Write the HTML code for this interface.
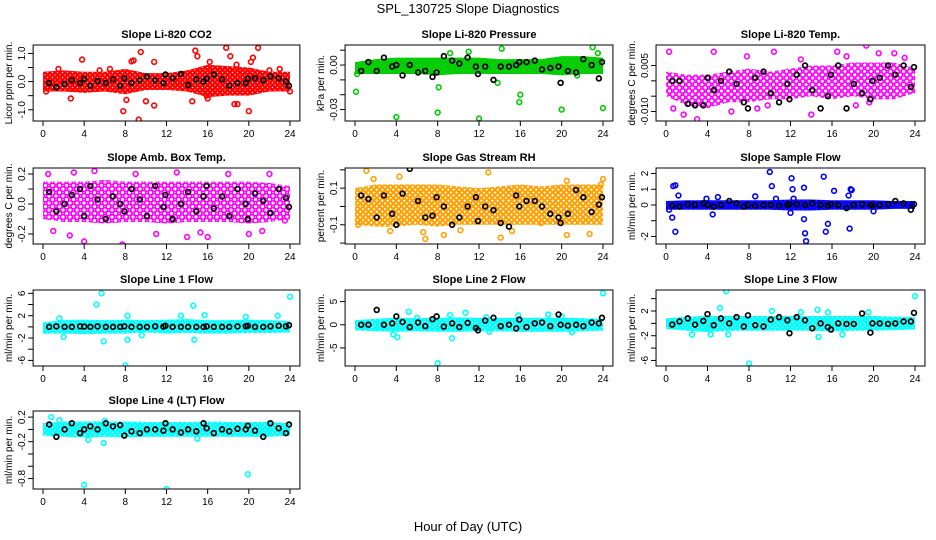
<!DOCTYPE html>
<html><head><meta charset="utf-8"><title>SPL_130725 Slope Diagnostics</title>
<style>
html,body{margin:0;padding:0;background:#fff;}
svg{display:block;font-family:"Liberation Sans",Arial,sans-serif;}
</style></head>
<body>
<svg id="chart" width="936" height="540" viewBox="0 0 936 540" xmlns="http://www.w3.org/2000/svg">
<text x="468" y="13" text-anchor="middle" font-size="13">SPL_130725  Slope Diagnostics</text>
<text x="468" y="531" text-anchor="middle" font-size="13">Hour of Day (UTC)</text>
</svg>
<script>
// shared data
const xTicks = [0,4,8,12,16,20,24];
const bandHours = [0,2,4,6,8,10,12,14,16,18,20,22,24];
const blackHours = [0.6,1.3,2.1,2.8,3.6,4.0,4.6,5.3,6.1,6.8,7.5,7.9,8.6,9.4,10.1,10.9,11.7,11.9,12.6,13.4,14.1,14.9,15.6,15.9,16.6,17.4,18.1,18.9,19.7,19.9,20.6,21.4,22.1,22.9,23.6,23.9];

// panel 1: CO2
const co2Lo = [-0.35,-0.35,-0.4,-0.35,-0.45,-0.3,-0.3,-0.35,-0.55,-0.5,-0.5,-0.35,-0.35];
const co2Hi = [0.35,0.4,0.35,0.35,0.45,0.3,0.3,0.4,0.6,0.55,0.5,0.35,0.35];
const co2OutX = [3.8,2.7,7.8,9.3,9.5,10.8,10.8,8.6,8.8,14.5,14.8,15,16,17.8,18.2,18.8,18.6,18.9,20,20.4,20.9,20.2,10,8.1,16.2,15.9,24,0.3,22,23,5.5,6.5,1.5];
const co2OutY = [0.78,-0.6,-1.05,-1.35,1.05,0.7,-0.85,0.72,0.75,-0.7,1.1,0.9,-0.6,1.2,0.9,0.6,-0.8,-0.8,-1.05,0.85,1.2,0.7,-0.7,-0.65,0.7,-0.5,-0.35,-0.35,0.4,0.45,0.4,0.45,0.45];
const co2Black = [-0.05,-0.2,-0.08,0.05,-0.05,0.1,-0.15,0.02,-0.05,0.08,-0.15,0.12,-0.05,0.05,0.18,0.05,-0.05,0.25,0.12,0.27,-0.12,0.08,0.0,0.1,0.25,0.08,-0.15,-0.05,-0.05,0.1,0.12,0.05,0.18,0.12,0.0,-0.15];
const co2Ticks = [-1,-0.5,0,0.5,1];
const co2Labels = ['-1.0','','0.0','','1.0'];

// panel 2: pressure
const presLo = [-0.006,-0.006,-0.006,-0.006,-0.007,-0.006,-0.006,-0.006,-0.006,-0.006,-0.007,-0.006,-0.006];
const presHi = [0.002,0.004,0.005,0.005,0.005,0.005,0.005,0.004,0.004,0.004,0.006,0.006,0.005];
const presOutX = [0.1,4,8,8.1,12,13.8,14.2,15.9,16,20,24,23,11,9.2,0.2,21.5,23.5];
const presOutY = [-0.018,-0.035,-0.032,-0.015,-0.036,-0.012,0.011,-0.025,-0.02,-0.03,-0.029,0.012,0.009,0.008,-0.006,-0.007,0.008];
const presBlack = [-0.004,0.002,-0.004,0.005,-0.001,0.0,-0.007,0.0,-0.005,-0.004,-0.008,-0.005,0.006,0.003,0.001,0.005,-0.001,-0.006,-0.001,-0.01,-0.001,-0.001,0.0,0.002,0.002,0.003,-0.003,-0.002,-0.001,-0.012,-0.004,-0.005,0.004,0.0,-0.009,0.002];
const presTicks = [0.01,0,-0.01,-0.02,-0.03];
const presLabels = ['','0.00','','','-0.03'];

// panel 3: Li-820 temp
const tempLo = [-0.005,-0.008,-0.009,-0.007,-0.007,-0.006,-0.006,-0.005,-0.006,-0.005,-0.006,-0.006,-0.004];
const tempHi = [0.003,0.002,0.002,0.003,0.004,0.003,0.004,0.005,0.005,0.006,0.006,0.006,0.004];
const tempOutX = [0.3,3,1.7,0.7,6.3,7.8,10.4,8.8,9.8,14,16.5,19.3,20.5,22,18.3,19.6,23,17.4,13,4.6];
const tempOutY = [0.0095,-0.0125,-0.011,-0.009,-0.010,0.008,0.0095,-0.009,-0.008,-0.011,0.0095,0.0115,0.009,0.009,-0.008,-0.007,0.0075,0.008,0.007,0.0095];
const tempBlack = [0.0,0.0,-0.0075,-0.008,-0.008,0.001,-0.003,0.0,0.003,-0.001,-0.007,-0.009,0.001,0.003,-0.004,-0.007,-0.001,-0.006,0.002,0.005,-0.003,-0.009,-0.005,0.002,0.005,-0.009,-0.001,-0.004,-0.006,0.0,0.001,0.005,0.002,0.005,-0.002,0.0045];
const tempTicks = [0.005,0,-0.005,-0.01];
const tempLabels = ['0.005','','','-0.010'];

// panel 4: amb box temp
const ambLo = [-0.1,-0.12,-0.12,-0.13,-0.12,-0.12,-0.13,-0.12,-0.12,-0.12,-0.13,-0.12,-0.1];
const ambHi = [0.15,0.15,0.15,0.16,0.15,0.15,0.15,0.15,0.15,0.15,0.15,0.14,0.12];
const ambOutX = [0.5,3,5,7.7,4,9,13,16,18,20,22,11,23.5,1,14,15.3,2.6,21.3];
const ambOutY = [0.2,0.21,0.22,-0.27,-0.25,0.2,0.21,-0.22,0.2,-0.2,0.2,-0.2,-0.11,-0.18,-0.22,-0.19,-0.21,-0.18];
const ambBlack = [0.08,-0.05,0.0,0.06,0.1,-0.08,0.12,0.03,-0.1,0.05,0.0,-0.05,0.1,0.03,-0.08,0.12,-0.02,0.06,-0.1,0.0,0.08,-0.05,0.05,0.12,-0.03,0.05,-0.08,0.1,0.0,-0.1,0.07,0.02,-0.06,0.1,0.04,-0.02];
const ambTicks = [0.2,0.1,0,-0.1,-0.2];
const ambLabels = ['0.2','','0.0','','-0.2'];

// panel 5: RH
const rhLo = [-0.1,-0.11,-0.11,-0.1,-0.11,-0.1,-0.1,-0.1,-0.1,-0.1,-0.1,-0.1,-0.1];
const rhHi = [0.1,0.12,0.12,0.12,0.12,0.11,0.1,0.11,0.12,0.11,0.12,0.12,0.12];
const rhOutX = [1.1,4.3,3.4,6.8,8.6,12.9,14.1,15.2,20.5,22.7,20.5,24,23.8,1.8,10.2,6.6,18,0.3];
const rhOutY = [0.195,0.163,-0.134,-0.177,-0.156,0.186,-0.17,-0.134,-0.156,-0.15,0.14,0.15,0.12,0.15,-0.13,-0.14,-0.09,-0.1];
const rhBlack = [0.06,0.04,-0.06,0.06,-0.04,-0.1,0.07,0.205,0.03,-0.06,-0.05,0.05,0.0,-0.1,-0.06,0.0,0.05,-0.08,0.0,-0.02,-0.09,-0.11,0.06,0.0,0.03,0.03,0.0,-0.04,-0.06,-0.09,-0.04,0.09,0.05,-0.03,0.01,0.05];
const rhTicks = [0.2,0.1,0,-0.1,-0.2];
const rhLabels = ['','0.1','','-0.1',''];

// panel 6: sample flow
const sampLo = [-0.3,-0.3,-0.3,-0.3,-0.3,-0.3,-0.35,-0.35,-0.3,-0.3,-0.3,-0.25,-0.25];
const sampHi = [0.25,0.3,0.3,0.3,0.3,0.3,0.35,0.35,0.3,0.3,0.3,0.25,0.25];
const sampOutX = [0.7,0.9,1.2,0.6,0.9,8.6,10,10.2,10.6,12.1,12.2,12.3,13.3,13.3,13.4,13.5,15.2,15.4,15.6,16.2,17.6,17.8,17.9,17.7,20,4.5,3.9,5,12,0.3];
const sampOutY = [1.2,1.25,0.6,-0.8,-1.7,0.55,2.1,1.2,0.4,1.7,1.0,0.4,1.1,-0.9,-1.8,-2.3,1.8,-1.7,-1.2,0.9,0.6,1.0,0.95,-1.5,-0.4,-0.6,0.4,0.5,-0.5,-0.3];
const sampBlack = [-0.05,-0.1,0.05,0.0,0.1,0.0,-0.1,0.0,0.25,0.1,-0.1,0.0,-0.05,0.0,0.0,-0.05,0.0,0.05,0.05,0.0,0.1,0.0,-0.05,0.05,0.0,-0.2,0.0,0.05,0.0,-0.05,0.0,0.05,0.25,0.1,-0.3,0.05];
const sampTicks = [2,1,0,-1,-2];
const sampLabels = ['2','1','0','','-2'];

// panel 7: line 1 flow
const l1Lo = [-1.2,-1.2,-1.3,-1.2,-1.2,-1,-1.2,-1.1,-1.2,-1.2,-1.1,-1.1,-1];
const l1Hi = [0.8,1.2,1.3,1.2,1.3,1.2,1.3,1.4,1.2,1.2,1.3,1.2,1];
const l1OutX = [5.2,5.7,5.9,8,8.2,14.6,14.7,24,1.6,8.2,13.4,15.7,19.7,22.8,2,9.6];
const l1OutY = [4,6,-2.6,-6.9,-2.3,3.8,-2.3,5.4,1.5,2,2,2.1,1.8,2,-1.8,-1.5];
const l1Black = [0.0,0.1,0.0,0.0,0.1,0.05,0.0,0.1,0.0,0.0,0.0,0.1,0.0,0.0,0.0,0.1,0.05,0.2,0.0,0.0,0.0,0.0,0.0,0.1,0.0,0.0,0.0,0.1,0.1,0.2,0.0,0.0,0.1,0.2,0.1,0.3];
const l1Ticks = [6,4,2,0,-2,-4,-6];
const l1Labels = ['6','','2','','-2','','-6'];

// panel 8: line 2 flow
const l2Lo = [-1.2,-1.4,-1.5,-1.4,-1.5,-1.5,-1.4,-1.4,-1.5,-1.5,-1.5,-1.4,-1.3];
const l2Hi = [1.0,1.3,1.5,1.4,1.5,1.6,1.5,1.5,1.5,1.5,1.5,1.4,1.3];
const l2OutX = [5.2,4.1,3.7,9.4,8,24,10.7,18.7,12.7,9.2,15.8,20,21,6,13];
const l2OutY = [2.8,-2.7,-2.1,-2.9,-8.3,6.8,2.6,2.2,1.6,2.1,2.0,1.8,-1.6,1.5,-1.5];
const l2Black = [0.0,0.0,3.2,0.0,0.3,1.8,0.6,-0.5,0.5,-0.3,1.2,1.8,-0.4,0.3,-0.5,0.4,-0.7,-1.2,0.9,1.5,-0.3,0.0,-0.8,1.1,-0.5,0.3,0.5,-0.3,2.2,0.0,-0.2,0.0,-0.3,0.5,0.3,1.5];
const l2Ticks = [5,0,-5];
const l2Labels = ['5','0','-5'];

// panel 9: line 3 flow
const l3Lo = [-0.9,-1.2,-1.4,-1.2,-1.2,-1.2,-1.2,-1.2,-1.3,-1.2,-1.2,-1.1,-1.0];
const l3Hi = [0.8,1.1,1.2,1.2,1.2,1.2,1.2,1.2,1.2,1.2,1.2,1.1,1.0];
const l3OutX = [5.8,5.2,8,14.6,14.7,4.3,24,10.2,13,15.6,17,19.5,6,2.5];
const l3OutY = [5.2,2.5,-6.5,2.2,-2.2,-1.8,4.4,2,1.8,1.8,-1.8,1.8,-1.8,-1.8];
const l3Black = [-0.2,0.3,0.8,-0.2,0.4,1.5,-0.3,0.8,0.0,1.0,-0.5,1.3,-0.3,-0.5,0.6,1.0,0.5,-1.6,1.0,0.5,-0.8,0.0,-0.6,-1.0,0.0,-0.1,-0.1,1.6,-1.5,0.0,0.0,-0.1,0.0,0.3,0.3,1.7];
const l3Ticks = [4,2,0,-2,-4,-6];
const l3Labels = ['','2','','-2','','-6'];

// panel 10: line 4 (LT) flow
const l4Lo = [-0.1,-0.12,-0.13,-0.12,-0.13,-0.12,-0.12,-0.12,-0.12,-0.12,-0.12,-0.12,-0.1];
const l4Hi = [0.1,0.13,0.13,0.13,0.13,0.12,0.12,0.12,0.13,0.12,0.12,0.12,0.1];
const l4OutX = [0.8,1.6,4.4,5.9,4,12,19.9,6,22,15];
const l4OutY = [0.2,0.15,-0.17,-0.22,-0.9,-0.97,-0.73,0.14,0.1,-0.15];
const l4Black = [0.08,-0.12,0.0,0.1,-0.06,0.0,0.05,0.0,0.1,0.05,0.07,-0.1,-0.03,-0.06,0.0,0.0,-0.02,0.1,0.0,-0.05,0.0,-0.03,0.1,0.02,-0.06,0.0,-0.03,0.01,0.0,0.06,-0.02,-0.12,0.1,0.02,-0.06,0.08];
const l4Ticks = [0.2,0,-0.2,-0.4,-0.6,-0.8];
const l4Labels = ['0.2','','-0.2','','','-0.8'];

const NS = 'http://www.w3.org/2000/svg';
const svg = document.getElementById('chart');
function mk(tag, attrs, parent){
  const e = document.createElementNS(NS, tag);
  for (const k in attrs) e.setAttribute(k, attrs[k]);
  (parent||svg).appendChild(e);
  return e;
}
const cols = [{x0:43,x24:290},{x0:355,x24:603},{x0:666,x24:915}];
const rows = [{t:45,b:121},{t:168,b:244},{t:290,b:366},{t:411,b:489}];

const panels = [
 {key:'co2',title:'Slope Li-820 CO2',ylab:'Licor ppm per min.',r:0,c:0,ymin:-1.4,ymax:1.3,col:'#ff0000',tile:5,lo:co2Lo,hi:co2Hi,ox:co2OutX,oy:co2OutY,bk:co2Black,ticks:co2Ticks,labels:co2Labels},
 {key:'pressure',title:'Slope Li-820 Pressure',ylab:'kPa per min.',r:0,c:1,ymin:-0.0377,ymax:0.0135,col:'#00cc00',tile:4.5,lo:presLo,hi:presHi,ox:presOutX,oy:presOutY,bk:presBlack,ticks:presTicks,labels:presLabels},
 {key:'li820-temp',title:'Slope Li-820 Temp.',ylab:'degrees C per min.',r:0,c:2,ymin:-0.0131,ymax:0.0117,col:'#ff00ff',tile:6.5,lo:tempLo,hi:tempHi,ox:tempOutX,oy:tempOutY,bk:tempBlack,ticks:tempTicks,labels:tempLabels},
 {key:'amb-box-temp',title:'Slope Amb. Box Temp.',ylab:'degrees C per min.',r:1,c:0,ymin:-0.267,ymax:0.24,col:'#ff00ff',tile:7,lo:ambLo,hi:ambHi,ox:ambOutX,oy:ambOutY,bk:ambBlack,ticks:ambTicks,labels:ambLabels},
 {key:'gas-stream-rh',title:'Slope Gas Stream RH',ylab:'percent per min.',r:1,c:1,ymin:-0.205,ymax:0.21,col:'#ffa000',tile:5.5,lo:rhLo,hi:rhHi,ox:rhOutX,oy:rhOutY,bk:rhBlack,ticks:rhTicks,labels:rhLabels},
 {key:'sample-flow',title:'Slope Sample Flow',ylab:'ml/min per min.',r:1,c:2,ymin:-2.48,ymax:2.35,col:'#0000ff',tile:4.5,lo:sampLo,hi:sampHi,ox:sampOutX,oy:sampOutY,bk:sampBlack,ticks:sampTicks,labels:sampLabels},
 {key:'line1-flow',title:'Slope Line 1 Flow',ylab:'ml/min per min.',r:2,c:0,ymin:-7.0,ymax:6.6,col:'#00ffff',tile:5,lo:l1Lo,hi:l1Hi,ox:l1OutX,oy:l1OutY,bk:l1Black,ticks:l1Ticks,labels:l1Labels},
 {key:'line2-flow',title:'Slope Line 2 Flow',ylab:'ml/min per min.',r:2,c:1,ymin:-8.9,ymax:7.5,col:'#00ffff',tile:5,lo:l2Lo,hi:l2Hi,ox:l2OutX,oy:l2OutY,bk:l2Black,ticks:l2Ticks,labels:l2Labels},
 {key:'line3-flow',title:'Slope Line 3 Flow',ylab:'ml/min per min.',r:2,c:2,ymin:-6.9,ymax:5.4,col:'#00ffff',tile:5,lo:l3Lo,hi:l3Hi,ox:l3OutX,oy:l3OutY,bk:l3Black,ticks:l3Ticks,labels:l3Labels},
 {key:'line4-flow',title:'Slope Line 4 (LT) Flow',ylab:'ml/min per min.',r:3,c:0,ymin:-0.97,ymax:0.3,col:'#00ffff',tile:5,lo:l4Lo,hi:l4Hi,ox:l4OutX,oy:l4OutY,bk:l4Black,ticks:l4Ticks,labels:l4Labels}
];

const defs = mk('defs', {});
panels.forEach(p => {
  const cl = cols[p.c], rw = rows[p.r];
  const s = (cl.x24 - cl.x0) / 24;
  const L = cl.x0 - 0.96*s, R = cl.x24 + 0.96*s;
  const xS = h => cl.x0 + h*s;
  const yS = v => rw.b - (v - p.ymin)/(p.ymax - p.ymin)*(rw.b - rw.t);
  const g = mk('g', {});
  
  

  // texture pattern for dense point cloud
  const pid = 'pat-' + p.key;
  const pat = mk('pattern', {id:pid, width:p.tile, height:p.tile, patternUnits:'userSpaceOnUse'}, defs);
  mk('circle', {cx:p.tile/2, cy:p.tile/2, r:2.3, fill:'none', stroke:p.col, 'stroke-width':'1.5'}, pat);
  mk('circle', {cx:0, cy:0, r:2.3, fill:'none', stroke:p.col, 'stroke-width':'1.5'}, pat);
  mk('circle', {cx:p.tile, cy:p.tile, r:2.3, fill:'none', stroke:p.col, 'stroke-width':'1.5'}, pat);
  mk('circle', {cx:p.tile, cy:0, r:2.3, fill:'none', stroke:p.col, 'stroke-width':'1.5'}, pat);
  mk('circle', {cx:0, cy:p.tile, r:2.3, fill:'none', stroke:p.col, 'stroke-width':'1.5'}, pat);

  const t = mk('text', {x:(L+R)/2, y:rw.t-7, 'text-anchor':'middle','font-size':'11','font-weight':'bold'}, g);
  t.textContent = p.title;
  
  

  const yl = mk('text', {x:0,y:0,transform:`translate(${L-21},${(rw.t+rw.b)/2}) rotate(-90)`,'text-anchor':'middle','font-size':'10'}, g);
  yl.textContent = p.ylab;
  
  

  const cid = 'clip-' + p.key;
  const cp = mk('clipPath', {id:cid}, defs);
  mk('rect', {x:L,y:rw.t,width:R-L,height:rw.b-rw.t}, cp);
  const dg = mk('g', {'clip-path':`url(#${cid})`}, g);
  
  

  let pts = [];
  bandHours.forEach((h,i) => pts.push(xS(h)+','+yS(p.hi[i])));
  for (let i = bandHours.length-1; i >= 0; i--) pts.push(xS(bandHours[i])+','+yS(p.lo[i]));
  const band = mk('polygon', {points:pts.join(' '), fill:`url(#${pid})`, stroke:'none'}, dg);
  
  

  p.ox.forEach((x,i) => {
    const c = mk('circle', {cx:xS(x), cy:yS(p.oy[i]), r:2.4, fill:'none', stroke:p.col, 'stroke-width':'1.6'}, dg);
    
    
  });
  blackHours.forEach((h,i) => {
    const c = mk('circle', {cx:xS(h), cy:yS(p.bk[i]), r:2.4, fill:'none', stroke:'#000', 'stroke-width':'1.7'}, dg);
    
    
  });

  const box = mk('rect', {x:L, y:rw.t, width:R-L, height:rw.b-rw.t, fill:'none', stroke:'#000','stroke-width':'1'}, g);
  
  

  xTicks.forEach(h => {
    mk('line', {x1:xS(h), x2:xS(h), y1:rw.b, y2:rw.b+5, stroke:'#000'}, g);
    const tl = mk('text', {x:xS(h), y:rw.b+16, 'text-anchor':'middle','font-size':'10'}, g);
    tl.textContent = String(h);
    
    
  });
  p.ticks.forEach((v,i) => {
    mk('line', {x1:L-5, x2:L, y1:yS(v), y2:yS(v), stroke:'#000'}, g);
    if (p.labels[i]) {
      const tl = mk('text', {x:0,y:0,transform:`translate(${L-8},${yS(v)}) rotate(-90)`,'text-anchor':'middle','font-size':'10'}, g);
      tl.textContent = p.labels[i];
      
      
    }
  });
});
</script>
</body></html>
